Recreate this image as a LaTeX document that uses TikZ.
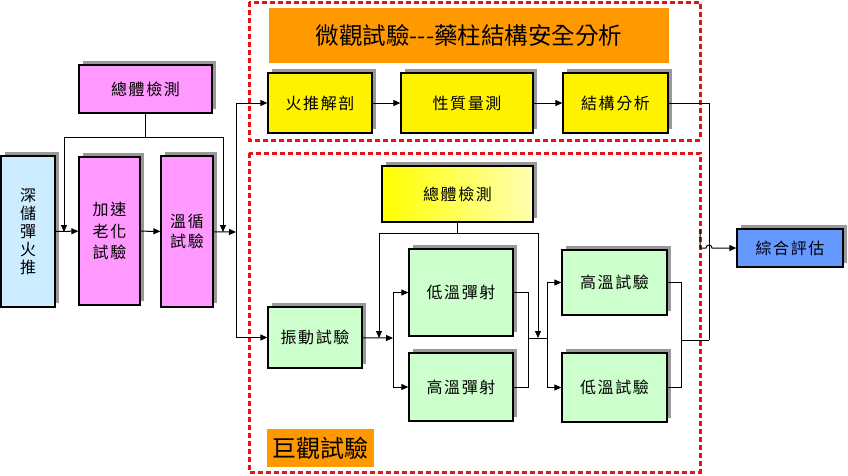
\documentclass[tikz,border=0pt]{standalone}
\usepackage{fontspec}
\newfontfamily\cjk[LetterSpace=10]{Noto Sans CJK TC}
\newfontfamily\cjkb{Noto Sans CJK TC}
\usetikzlibrary{shadows,arrows.meta}
\definecolor{pinkfill}{RGB}{255,153,255}
\definecolor{skyfill}{RGB}{204,236,255}
\definecolor{greenfill}{RGB}{204,255,204}
\definecolor{orangefill}{RGB}{255,153,0}
\definecolor{bluefill}{RGB}{102,153,255}
\definecolor{framered}{RGB}{228,20,20}

\begin{document}
\begin{tikzpicture}[x=1pt,y=-1pt,>={Triangle[length=7pt,width=6pt]},
    box/.style={draw,line width=1.3pt,inner sep=0pt,font=\cjk\fontsize{16}{18}\selectfont,
      drop shadow={shadow xshift=4pt,shadow yshift=4pt,fill=black!40,opacity=1}},
    pinkbox/.style={box,fill=pinkfill},
    yellowbox/.style={box,fill=yellow},
    greenbox/.style={box,fill=greenfill},
    tag/.style={fill=orangefill,inner sep=0pt},
    frame/.style={draw=framered,line width=3pt,dash pattern=on 5pt off 3pt},
    link/.style={line width=1pt}]
    \useasboundingbox (0,0) rectangle (848,475);

    \draw[frame] (249,2) rectangle (700,140);
    \draw[frame] (249,153) rectangle (700,472);

    \node[pinkbox,minimum width=133pt,minimum height=48pt] (zt1) at (145.5,89) {總體檢測};
    \node[box,fill=skyfill,minimum width=54pt,minimum height=151pt,align=center] (shen) at (28,231.5) {深\\儲\\彈\\火\\推};
    \node[pinkbox,minimum width=61pt,minimum height=148pt,align=center,font=\cjk\fontsize{16}{21.5}\selectfont] (jiasu) at (109.5,231) {加速\\老化\\試驗};
    \node[pinkbox,minimum width=52pt,minimum height=151pt,align=center,font=\cjk\fontsize{16}{20}\selectfont] (wenxun) at (187,231.5) {溫循\\試驗};

    \node[tag,minimum width=400pt,minimum height=55pt,font=\cjkb\fontsize{23.5}{26}\selectfont] (weiguan) at (469,35.5) {微觀試驗{-}{-}{-}藥柱結構安全分析};
    \node[yellowbox,minimum width=104pt,minimum height=60pt] (jp) at (320,103) {火推解剖};
    \node[yellowbox,minimum width=132pt,minimum height=60pt] (xz) at (467,103) {性質量測};
    \node[yellowbox,minimum width=105pt,minimum height=60pt] (jg) at (615.5,103) {結構分析};

    \node[box,left color=yellow,right color=yellow!30,minimum width=151pt,minimum height=56pt] (zt2) at (457.5,194) {總體檢測};
    \node[greenbox,minimum width=94pt,minimum height=61pt] (zd) at (315,337.5) {振動試驗};
    \node[greenbox,minimum width=104pt,minimum height=87pt] (dw) at (461,292.5) {低溫彈射};
    \node[greenbox,minimum width=104pt,minimum height=68pt] (gw) at (461,387) {高溫彈射};
    \node[greenbox,minimum width=105pt,minimum height=65pt] (gs) at (614.5,282.5) {高溫試驗};
    \node[greenbox,minimum width=105pt,minimum height=69pt] (ds) at (614.5,387.5) {低溫試驗};
    \node[tag,minimum width=107pt,minimum height=38pt,font=\cjkb\fontsize{24}{26}\selectfont] (juguan) at (320.5,448) {巨觀試驗};

    \node[box,fill=bluefill,minimum width=106pt,minimum height=38pt] (zh) at (790,248) {綜合評估};

    \coordinate (c1) at (145.5,137);
    \coordinate (a1) at (64,232);
    \coordinate (a2) at (223,232);
    \coordinate (fork) at (236,232);
    \draw[link] (zt1) -- (c1);
    \draw[link,->] (c1) -| (a1);
    \draw[link,->] (c1) -| (a2);
    \draw[link,->] (shen) -- (jiasu);
    \draw[link,->] (jiasu) -- (wenxun);
    \draw[link,->] (wenxun) -- (fork);
    \draw[link,->] (fork) |- (jp);
    \draw[link,->] (fork) |- (zd);
    \draw[link,->] (jp) -- (xz);
    \draw[link,->] (xz) -- (jg);

    \coordinate (c2) at (457.5,233);
    \coordinate (b1) at (379,338);
    \coordinate (b2) at (538,338);
    \coordinate (b3) at (393,338);
    \coordinate (m1) at (528,338);
    \coordinate (m2) at (547,338);
    \coordinate (m3) at (681,340);
    \coordinate (r1) at (709,340);
    \draw[link] (zt2) -- (c2);
    \draw[link,->] (c2) -| (b1);
    \draw[link,->] (c2) -| (b2);
    \draw[link,->] (zd) -- (b3);
    \draw[link,->] (b3) |- (dw);
    \draw[link,->] (b3) |- (gw);
    \draw[link] (dw) -| (m1);
    \draw[link] (gw) -| (m1);
    \draw[link] (m1) -- (m2);
    \draw[link,->] (m2) |- (gs);
    \draw[link,->] (m2) |- (ds);
    \draw[link] (gs) -| (m3);
    \draw[link] (ds) -| (m3);
    \draw[link] (m3) -- (r1);
    \draw[link] (jg) -| (r1);

    \coordinate (h0) at (700,229);
    \draw[link,->] (h0) -- ++(0,19) -- ++(6,0) arc[start angle=180,end angle=360,radius=3] -- (zh);
\end{tikzpicture}
\end{document}
